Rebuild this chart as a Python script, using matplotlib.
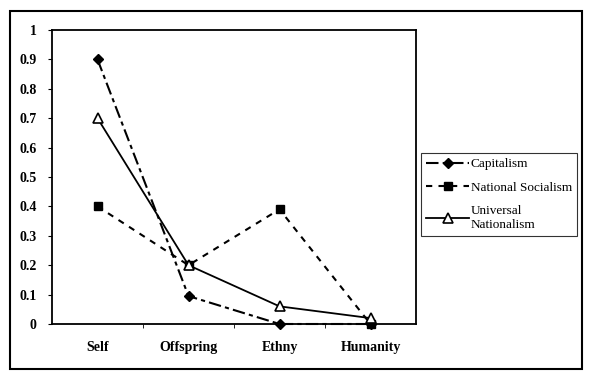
import matplotlib
matplotlib.use("Agg")
import matplotlib.pyplot as plt
from matplotlib.patches import Rectangle

# data
categories = ["Self", "Offspring", "Ethny", "Humanity"]
capitalism = [0.9, 0.095, 0.0, 0.0]
national_socialism = [0.4, 0.2, 0.39, 0.0]
universal_nationalism = [0.7, 0.2, 0.06, 0.02]
y_ticks = [0, 0.1, 0.2, 0.3, 0.4, 0.5, 0.6, 0.7, 0.8, 0.9, 1]
y_tick_labels = ["0", "0.1", "0.2", "0.3", "0.4", "0.5", "0.6", "0.7", "0.8", "0.9", "1"]

plt.rcParams['font.family'] = ['Liberation Serif', 'DejaVu Serif']

fig = plt.figure(figsize=(5.92, 3.78), dpi=100)
ax = fig.add_axes([52 / 592, 1 - 324 / 378, 364 / 592, 294 / 378])

x = list(range(len(categories)))
ax.plot(x, capitalism, color='black', lw=1.5, linestyle=(0, (6, 2, 2, 2)),
        marker='D', markersize=5, markerfacecolor='black', label='Capitalism',
        clip_on=False, zorder=3)
ax.plot(x, national_socialism, color='black', lw=1.5, linestyle=(0, (3, 3)),
        marker='s', markersize=6, markerfacecolor='black', label='National Socialism',
        clip_on=False, zorder=3)
ax.plot(x, universal_nationalism, color='black', lw=1.3, linestyle='-',
        marker='^', markersize=7, markerfacecolor='white', markeredgewidth=1.2,
        label='Universal\nNationalism', clip_on=False, zorder=4)

ax.set_xlim(-0.5, 3.5)
ax.set_ylim(0, 1)
ax.set_yticks(y_ticks)
ax.set_yticklabels(y_tick_labels, fontsize=10, fontweight='bold')
ax.set_xticks(x)
ax.set_xticklabels(categories, fontsize=10, fontweight='bold')
ax.tick_params(axis='x', length=0, pad=12)
ax.set_xticks([0.5, 1.5, 2.5], minor=True)
ax.tick_params(axis='x', which='minor', length=3, direction='out')
ax.tick_params(axis='y', length=3, direction='out', pad=8)
for s in ax.spines.values():
    s.set_linewidth(1.3)

leg = fig.legend(loc='upper left', bbox_to_anchor=(418 / 592, 1 - 150 / 378),
                 fontsize=9.5, handlelength=3.3, frameon=True, fancybox=False,
                 edgecolor='black', borderpad=0.4, borderaxespad=0.2,
                 labelspacing=0.85, handletextpad=0.1)
leg.get_frame().set_linewidth(0.8)

# outer frame around the whole chart
fig.patches.append(Rectangle((10 / 592, 1 - 369 / 378), 572 / 592, 358 / 378,
                             transform=fig.transFigure, fill=False,
                             edgecolor='black', linewidth=1.5))

fig.savefig("out.png", dpi=100)
